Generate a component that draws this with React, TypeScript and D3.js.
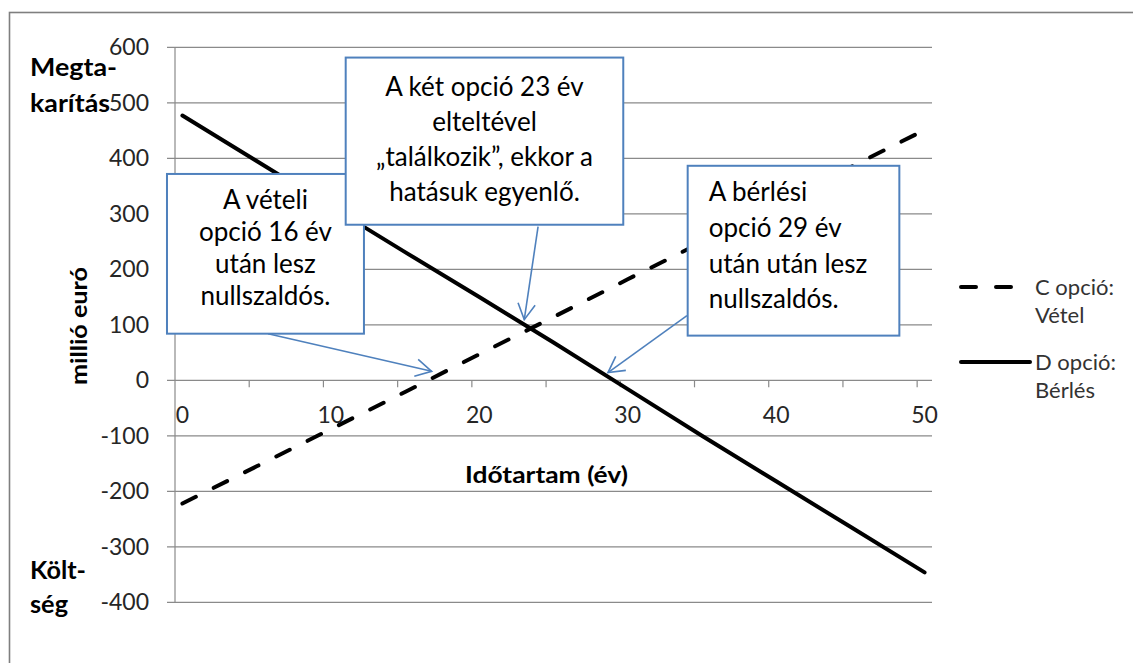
import React from 'react';
import * as d3 from 'd3';

// ---- data ----
const years = [0, 5, 10, 15, 20, 25, 30, 35, 40, 45, 50];
const optionC = [-222, -155, -88, -21, 47, 114, 182, 249, 316, 384, 451]; // C opció: Vétel
const optionD = [477, 395, 313, 231, 150, 68, -16, -100, -182, -264, -346]; // D opció: Bérlés
const xTickLabels = [0, 10, 20, 30, 40, 50];
const xTickMarks = [4.5, 9.5, 14.5, 19.5, 24.5, 29.5, 34.5, 39.5, 44.5, 49.5];
const yTicks = [-400, -300, -200, -100, 0, 100, 200, 300, 400, 500, 600];

const seriesNames = [
  ['C opció:', 'Vétel'],
  ['D opció:', 'Bérlés'],
];

// annotation boxes in data coordinates (x: years, y: millió euró)
const boxes = [
  { x0: -1.04, x1: 12.23, y0: 371.8, y1: 84, align: 'middle', first: 35, lh: 32,
    lines: ['A vételi', 'opció 16 év', 'után lesz', 'nullszaldós.'] },
  { x0: 11.0, x1: 29.7, y0: 581.5, y1: 280.3, align: 'middle', first: 38, lh: 35.3,
    lines: ['A két opció 23 év', 'elteltével', '„találkozik”, ekkor a', 'hatásuk egyenlő.'] },
  { x0: 34.04, x1: 48.3, y0: 386.5, y1: 80.5, align: 'start', first: 35.5, lh: 35.7,
    lines: ['A bérlési', 'opció 29 év', 'után után lesz', 'nullszaldós.'] },
];

const arrows = [
  { from: [5.77, 84], to: [16.79, 16.2] },
  { from: [23.96, 276.7], to: [23.03, 109.3] },
  { from: [33.99, 116.5], to: [28.67, 13.9] },
];

const FONT = 'Lato, "Open Sans", sans-serif';
const BLUE = '#4f81bd';
const GRID = '#8a8a8a';

export default function App() {
  const W = 1133, H = 663;
  const x = d3.scaleLinear().domain([-0.5, 50.5]).range([175, 932]);
  const y = d3.scaleLinear().domain([-400, 600]).range([602.3, 47.3]);

  const line = d3.line<number>().x((_, i) => x(years[i])).y((d) => y(d));

  const arrowHead = (fx: number, fy: number, tx: number, ty: number) => {
    const ang = Math.atan2(ty - fy, tx - fx);
    const len = 18, spread = 0.5;
    const a1 = ang + Math.PI - spread, a2 = ang + Math.PI + spread;
    return `M${tx + len * Math.cos(a1)},${ty + len * Math.sin(a1)}L${tx},${ty}L${tx + len * Math.cos(a2)},${ty + len * Math.sin(a2)}`;
  };

  const boldLabel = (txt: string, px: number, py: number, len: number) => (
    <text x={px} y={py} fontSize={24} fontWeight="bold" fill="#000" textLength={len} lengthAdjust="spacingAndGlyphs">{txt}</text>
  );

  return (
    <svg width={W} height={H} style={{ position: 'absolute', left: 0, top: 0, background: '#fff' }} fontFamily={FONT}>
      <rect x={0} y={0} width={W} height={H} fill="#fff" />
      {/* outer chart border (cut by the picture edge) */}
      <rect x={9.5} y={12.5} width={W + 20} height={H + 20} fill="none" stroke="#7f7f7f" strokeWidth={1.6} />

      {/* horizontal gridlines + y tick marks */}
      {yTicks.map((t) => (
        <line key={'g' + t} x1={167} x2={x(50.5)} y1={y(t)} y2={y(t)} stroke={GRID} strokeWidth={1.2} />
      ))}
      {/* y axis */}
      <line x1={x(-0.5)} x2={x(-0.5)} y1={y(600)} y2={y(-400)} stroke={GRID} strokeWidth={1.2} />
      {/* x axis tick marks */}
      {xTickMarks.map((t) => (
        <line key={'xt' + t} x1={x(t)} x2={x(t)} y1={y(0)} y2={y(0) + 7} stroke={GRID} strokeWidth={1.2} />
      ))}

      {/* y tick labels */}
      {yTicks.map((t) => (
        <text key={'yl' + t} x={149} y={y(t) + 8} textAnchor="end" fontSize={23} fill="#262626">{t}</text>
      ))}
      {/* x tick labels */}
      {xTickLabels.map((t) => (
        <text key={'xl' + t} x={x(t)} y={423} textAnchor="middle" fontSize={23} fill="#262626">{t}</text>
      ))}

      {/* axis titles */}
      <text x={465} y={483} fontSize={23} fontWeight="bold" fill="#000" textLength={163} lengthAdjust="spacingAndGlyphs">Időtartam (év)</text>
      <text transform="translate(87,385) rotate(-90)" fontSize={23} fontWeight="bold" fill="#000" textLength={118} lengthAdjust="spacingAndGlyphs">millió euró</text>
      {boldLabel('Megta-', 30, 76, 87)}
      {boldLabel('karítás', 30, 112, 80)}
      {boldLabel('Költ-', 30, 579, 56)}
      {boldLabel('ség', 30, 613, 38)}

      {/* series */}
      <path d={line(optionC) || ''} fill="none" stroke="#000" strokeWidth={4} strokeDasharray="15 20" strokeLinecap="round" />
      <path d={line(optionD) || ''} fill="none" stroke="#000" strokeWidth={4} strokeLinecap="round" strokeLinejoin="round" />

      {/* legend */}
      <line x1={961} x2={1013} y1={287} y2={287} stroke="#000" strokeWidth={4} strokeDasharray="15 20" strokeLinecap="round" />
      <text x={1035} y={295} fontSize={22} fill="#333">{seriesNames[0][0]}</text>
      <text x={1035} y={323} fontSize={22} fill="#333">{seriesNames[0][1]}</text>
      <line x1={961} x2={1030} y1={362} y2={362} stroke="#000" strokeWidth={4} strokeLinecap="round" />
      <text x={1035} y={369.5} fontSize={22} fill="#333">{seriesNames[1][0]}</text>
      <text x={1035} y={397.5} fontSize={22} fill="#333">{seriesNames[1][1]}</text>

      {/* annotation boxes */}
      {boxes.map((b, i) => {
        const bx = x(b.x0), by = y(b.y0), bw = x(b.x1) - x(b.x0), bh = y(b.y1) - y(b.y0);
        const tx = b.align === 'middle' ? bx + bw / 2 : bx + 21;
        return (
          <g key={'box' + i}>
            <rect x={bx} y={by} width={bw} height={bh} fill="#fff" stroke={BLUE} strokeWidth={2} />
            {b.lines.map((l, j) => (
              <text key={j} x={tx} y={by + b.first + j * b.lh} textAnchor={b.align} fontSize={26} fill="#000">{l}</text>
            ))}
          </g>
        );
      })}

      {/* callout arrows */}
      {arrows.map((a, i) => {
        const fx = x(a.from[0]), fy = y(a.from[1]), tx = x(a.to[0]), ty = y(a.to[1]);
        return (
          <g key={'ar' + i} fill="none" stroke={BLUE} strokeWidth={1.6}>
            <line x1={fx} y1={fy} x2={tx} y2={ty} />
            <path d={arrowHead(fx, fy, tx, ty)} />
          </g>
        );
      })}
    </svg>
  );
}
